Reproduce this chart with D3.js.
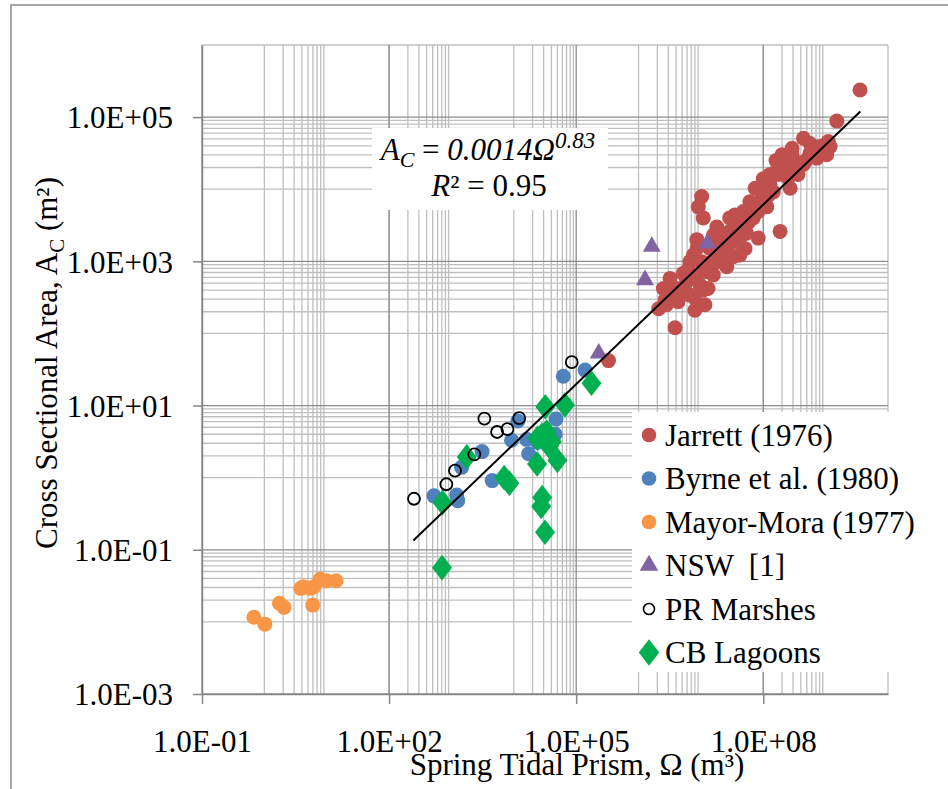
<!DOCTYPE html>
<html>
<head>
<meta charset="utf-8">
<script src="https://cdn.jsdelivr.net/npm/d3@7"></script>
<style>
  body { margin: 0; background: #fff; }
  svg text { font-family: "Liberation Serif", "Times New Roman", serif; fill: #000; }
</style>
</head>
<body>
<svg id="chart" width="948" height="789"></svg>
<script>
// series: [tidal prism (m3), cross sectional area (m2)]
const jarrett = [
  [3.56e9, 2.38e5], [1.51e9, 8.8e4], [4.4e8, 5.1e4], [5.6e8, 4.3e4], [1.1e9, 4.6e4],
  [1.04e9, 3.0e4], [7.2e8, 2.7e4], [2.9e8, 3.7e4], [2.0e8, 3.0e4], [2.2e8, 2.3e4],
  [4.4e8, 2.2e4], [3.6e8, 1.6e4], [1.6e8, 1.75e4], [1.0e8, 1.4e4], [2.7e8, 1.03e4],
  [1.45e8, 9.2e3], [9.4e7, 7.5e3], [6.1e7, 6.7e3], [1.14e8, 5.7e3], [4.8e7, 4.9e3],
  [2.9e7, 4.0e3], [1.86e8, 2.6e3], [8.3e7, 2.1e3], [5.4e7, 2.45e3], [3.75e7, 2.9e3],
  [5.1e7, 1.5e3], [4.2e7, 1.22e3], [2.6e7, 2.3e3], [1.8e7, 3.0e3], [1.03e7, 7.9e3],
  [9.1e6, 5.7e3], [1.09e7, 4.0e3], [8.6e6, 2.0e3], [2.6e7, 1.44e3], [1.8e7, 990],
  [2.6e7, 840], [1.58e7, 650], [1.03e7, 990], [8.6e6, 650], [1.09e7, 400],
  [8.0e6, 310], [5.9e6, 520], [5.2e6, 680], [4.1e6, 420], [3.2e6, 580],
  [4.3e6, 275], [2.8e6, 250], [2.1e6, 220], [3.85e6, 120], [1.4e7, 1.5e3],
  [2.0e7, 1.69e3], [3.3e7, 1.87e3], [6.9e7, 4.0e3], [7.4e7, 1.03e4], [1.28e8, 1.6e4],
  [1.6e8, 2.5e4], [3.3e5, 42], [2.5e6, 420], [6.7e6, 990], [1.24e7, 720],
  [2.3e7, 1.04e3], [3.3e7, 1.16e3], [4.2e7, 2.1e3], [5.8e7, 3.5e3], [8.3e7, 4.9e3],
  [9.4e7, 9.8e3], [1.28e8, 1.15e4], [1.75e8, 1.6e4], [2.4e8, 1.75e4], [3.2e8, 2.4e4],
  [5.6e8, 3.15e4], [8.1e8, 3.9e4], [1.18e9, 3.9e4], [1.3e7, 420], [5.2e6, 380],
  [3.2e6, 340], [7.6e6, 1.22e3], [1.58e7, 2.3e3], [2.9e7, 2.6e3],
  [9.7e6, 470], [1.5e7, 980], [1.88e7, 1.35e3], [2.44e7, 1.8e3], [3.5e7, 2.55e3],
  [4.6e7, 3.5e3], [6.6e7, 4.8e3], [8.9e7, 6.2e3], [1.19e8, 8.1e3], [2.5e8, 1.43e4],
  [4.85e8, 2.5e4], [6.7e6, 340], [2.66e6, 290], [6.2e6, 760], [8.7e6, 1.53e3],
  [3.5e7, 4.4e3], [1.86e8, 1.97e4], [2.9e8, 3.0e4], [1.16e7, 250], [8.0e6, 210]
];
const byrne = [
  [525, 0.56], [1.21e3, 0.575], [1.26e3, 0.48], [1.45e3, 1.39], [3.1e3, 2.3],
  [4.5e3, 0.91], [9.2e3, 3.3], [1.16e4, 6.1], [1.6e4, 3.4], [1.73e4, 2.15],
  [2.4e4, 3.1], [4.75e4, 6.5], [4.6e4, 4.0], [6.2e4, 25.5], [1.39e5, 31]
];
const mayorMora = [
  [0.68, 0.0116], [1.02, 0.0093], [1.74, 0.0181], [2.07, 0.0159], [3.83, 0.0292],
  [5.4, 0.0292], [4.21, 0.0308], [6.25, 0.0308], [5.96, 0.0171], [7.8, 0.039],
  [10, 0.0372], [14.1, 0.0372]
];
const nsw = [[2.3e5, 53], [1.27e6, 551], [1.63e6, 1.6e3], [1.27e7, 1.78e3]];
const prMarshes = [
  [251, 0.51], [828, 0.81], [1.14e3, 1.25], [2.33e3, 2.11], [3.37e3, 6.6],
  [5.4e3, 4.3], [7.9e3, 4.7], [1.22e4, 6.7], [8.5e4, 40]
];
const cbLagoons = [
  [719, 0.45], [1.76e3, 1.94], [7.0e3, 1.0], [8.5e3, 0.84], [2.36e4, 1.55],
  [2.85e4, 0.53], [2.75e4, 0.40], [3.16e4, 0.175], [5.0e4, 1.74], [2.4e4, 3.5],
  [3.37e4, 4.3], [4.05e4, 3.15], [3.2e4, 9.6], [6.6e4, 10.2], [1.76e5, 20.4],
  [706, 0.0565], [2.83e4, 3.9], [3.67e4, 2.75]
];
const seriesNames = ["Jarrett (1976)", "Byrne et al. (1980)", "Mayor-Mora (1977)",
  "NSW  [1]", "PR Marshes", "CB Lagoons"];

// power-law fit A = a * P^b drawn over this prism range
const fitA = 0.0014, fitB = 0.83;
const fitRange = [2.45e2, 3.6e9];

const xMajor = [1e-1, 1e2, 1e5, 1e8];
const xTickLabels = ["1.0E-01", "1.0E+02", "1.0E+05", "1.0E+08"];
const yMajor = [1e-3, 1e-1, 1e1, 1e3, 1e5];
const yTickLabels = ["1.0E-03", "1.0E-01", "1.0E+01", "1.0E+03", "1.0E+05"];
const xMinorDecades = [0, 2, 4, 6, 8];
const yMinorDecades = [-2, 0, 2, 4];

const svg = d3.select("#chart");
const x = d3.scaleLog().domain([1e-1, 1e10]).range([202, 888]);
const y = d3.scaleLog().domain([1e-3, 1e6]).range([694, 45]);

// outer frame (only left/top visible)
svg.append("path").attr("d", "M11,789V5H948").attr("fill", "none")
  .attr("stroke", "#8c8c8c").attr("stroke-width", 1.5);

const minorVals = decs => decs.flatMap(e => d3.range(1, 10).map(k => k * Math.pow(10, e)));
const grid = svg.append("g");
const xMinor = minorVals(xMinorDecades).concat([1e10]);
const yMinor = minorVals(yMinorDecades).concat([1e6]);

grid.selectAll(".vx").data(xMinor).enter().append("line")
  .attr("x1", d => x(d)).attr("x2", d => x(d)).attr("y1", 45).attr("y2", 694)
  .attr("stroke", "#bfbfbf").attr("stroke-width", 1.3);
grid.selectAll(".hy").data(yMinor).enter().append("line")
  .attr("y1", d => y(d)).attr("y2", d => y(d)).attr("x1", 202).attr("x2", 888)
  .attr("stroke", "#bfbfbf").attr("stroke-width", 1.3);
grid.selectAll(".vxm").data(xMajor).enter().append("line")
  .attr("x1", d => x(d)).attr("x2", d => x(d)).attr("y1", 45).attr("y2", 694)
  .attr("stroke", "#8c8c8c").attr("stroke-width", 1.3);
grid.selectAll(".hym").data(yMajor).enter().append("line")
  .attr("y1", d => y(d)).attr("y2", d => y(d)).attr("x1", 202).attr("x2", 888)
  .attr("stroke", "#8c8c8c").attr("stroke-width", 1.3);

// axes
const xAxis = svg.append("g").attr("transform", "translate(0,694)")
  .call(d3.axisBottom(x).tickValues(xMajor).tickFormat((d, i) => xTickLabels[i])
    .tickSizeInner(10).tickSizeOuter(0));
xAxis.selectAll("text").attr("y", 58).attr("dy", 0).style("font-size", "31px")
  .style("font-family", "Liberation Serif");
const yAxis = svg.append("g").attr("transform", "translate(202,0)")
  .call(d3.axisLeft(y).tickValues(yMajor).tickFormat((d, i) => yTickLabels[i])
    .tickSizeInner(9).tickSizeOuter(0));
yAxis.selectAll("text").attr("x", -29).attr("dy", "0.35em").style("font-size", "31px")
  .style("font-family", "Liberation Serif");
svg.selectAll(".domain, .tick line").attr("stroke", "#868686").attr("stroke-width", 1.5);

// points
const plot = svg.append("g");
const dots = (data, color) => plot.append("g").selectAll("circle").data(data).enter()
  .append("circle").attr("cx", d => x(d[0])).attr("cy", d => y(d[1])).attr("r", 7.5)
  .attr("fill", color);
dots(jarrett, "#c0504d");
dots(byrne, "#4f81bd");
dots(mayorMora, "#f79646");
plot.append("g").selectAll("path").data(nsw).enter().append("path")
  .attr("d", d3.symbol(d3.symbolTriangle, 140))
  .attr("transform", d => `translate(${x(d[0])},${y(d[1])})`)
  .attr("fill", "#8064a2");
plot.append("g").selectAll("path").data(cbLagoons).enter().append("path")
  .attr("d", d3.symbol(d3.symbolDiamond, 190))
  .attr("transform", d => `translate(${x(d[0])},${y(d[1])}) scale(1.35,1)`)
  .attr("fill", "#00b050");
plot.append("g").selectAll("circle").data(prMarshes).enter().append("circle")
  .attr("cx", d => x(d[0])).attr("cy", d => y(d[1])).attr("r", 6)
  .attr("fill", "none").attr("stroke", "#000").attr("stroke-width", 1.8);

// trend line
plot.append("line")
  .attr("x1", x(fitRange[0])).attr("y1", y(fitA * Math.pow(fitRange[0], fitB)))
  .attr("x2", x(fitRange[1])).attr("y2", y(fitA * Math.pow(fitRange[1], fitB)))
  .attr("stroke", "#000").attr("stroke-width", 2);

// equation label
const eq = svg.append("g");
eq.append("rect").attr("x", 372).attr("y", 128).attr("width", 236).attr("height", 82).attr("fill", "#fff");
const l1 = eq.append("text").attr("x", 488).attr("y", 160).attr("text-anchor", "middle")
  .style("font-size", "31px");
l1.append("tspan").style("font-style", "italic").text("A");
l1.append("tspan").style("font-style", "italic").style("font-size", "22px").attr("dy", 7).text("C");
l1.append("tspan").attr("dy", -7).text(" = ");
l1.append("tspan").style("font-style", "italic").text("0.0014Ω");
l1.append("tspan").style("font-style", "italic").style("font-size", "23px").attr("dy", -12).text("0.83");
const l2 = eq.append("text").attr("x", 489).attr("y", 196).attr("text-anchor", "middle")
  .style("font-size", "31px");
l2.append("tspan").style("font-style", "italic").text("R");
l2.append("tspan").text("² = 0.95");

// legend
const lg = svg.append("g");
lg.append("rect").attr("x", 632).attr("y", 412).attr("width", 258).attr("height", 260).attr("fill", "#fff");
const rowY = i => 435 + i * 43.5;
const legendMarks = [
  g => g.append("circle").attr("r", 7.3).attr("fill", "#c0504d"),
  g => g.append("circle").attr("r", 7.3).attr("fill", "#4f81bd"),
  g => g.append("circle").attr("r", 7.3).attr("fill", "#f79646"),
  g => g.append("path").attr("d", d3.symbol(d3.symbolTriangle, 150)).attr("fill", "#8064a2"),
  g => g.append("circle").attr("r", 5.5).attr("fill", "none").attr("stroke", "#000").attr("stroke-width", 1.6),
  g => g.append("path").attr("d", d3.symbol(d3.symbolDiamond, 200)).attr("transform", "scale(1.35,1)").attr("fill", "#00b050")
];
seriesNames.forEach((name, i) => {
  const g = lg.append("g").attr("transform", `translate(649,${rowY(i)})`);
  legendMarks[i](g);
  g.append("text").attr("x", 16).attr("dy", "0.35em").style("font-size", "31px")
    .style("white-space", "pre").attr("xml:space", "preserve").text(name);
});

// axis titles
const yt = svg.append("text").attr("transform", "translate(57,363) rotate(-90)")
  .attr("text-anchor", "middle").style("font-size", "31px");
yt.append("tspan").text("Cross Sectional Area, A");
yt.append("tspan").style("font-size", "21px").attr("dy", 7).text("C");
yt.append("tspan").attr("dy", -7).text(" (m²)");
svg.append("text").attr("x", 577).attr("y", 775).attr("text-anchor", "middle")
  .style("font-size", "31px").text("Spring Tidal Prism, Ω (m³)");
</script>
</body>
</html>
